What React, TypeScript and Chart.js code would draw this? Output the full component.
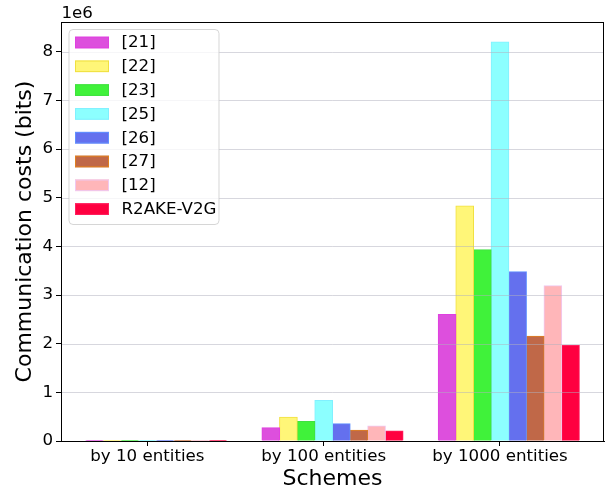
import React, { useEffect, useRef } from "react";
import { Chart, registerables } from "chart.js";

Chart.register(...registerables);

const FONT = "'DejaVu Sans', sans-serif";

// Categories (x axis)
const categories = ["by 10 entities", "by 100 entities", "by 1000 entities"];
// Schemes (series)
const schemes = ["[21]", "[22]", "[23]", "[25]", "[26]", "[27]", "[12]", "R2AKE-V2G"];
// Values per category, one entry per scheme (bits)
const by10 = [2600, 4830, 3930, 8200, 3480, 2150, 3190, 1960];
const by100 = [270000, 490000, 400000, 830000, 355000, 220000, 310000, 205000];
const by1000 = [2600000, 4830000, 3930000, 8200000, 3480000, 2150000, 3190000, 1960000];
// Y tick values
const yTicks = [0, 1e6, 2e6, 3e6, 4e6, 5e6, 6e6, 7e6, 8e6];

const fills = ["#dd4fdd", "#fff678", "#40f23a", "#8cffff", "#6470ee", "#c06848", "#ffb6b9", "#ff0040"];
const edges = ["#e040e0", "#f0e040", "#40e040", "#80f0ff", "#6090ff", "#e08020", "#f0c8f0", "#ff2060"];

const GRID = "rgba(176,176,190,0.5)";
const TICK_SIZE = 16.67;
const TITLE_SIZE = 22;

const overlay = {
  id: "overlay",
  afterDatasetsDraw(chart: any) {
    const { ctx, chartArea, scales } = chart;
    const { left, right } = chartArea;
    ctx.save();
    ctx.strokeStyle = GRID;
    ctx.lineWidth = 1;
    yTicks.forEach((v) => {
      if (v === 0) return;
      const py = Math.round(scales.y.getPixelForValue(v)) + 0.5;
      ctx.beginPath();
      ctx.moveTo(left, py);
      ctx.lineTo(right, py);
      ctx.stroke();
    });
    ctx.restore();
  },
  afterDraw(chart: any) {
    const { ctx, chartArea } = chart;
    const { left, right, top, bottom } = chartArea;
    ctx.save();
    // spines
    ctx.strokeStyle = "#000";
    ctx.lineWidth = 1;
    ctx.strokeRect(Math.round(left) + 0.5, Math.round(top) + 0.5, Math.round(right - left) - 1, Math.round(bottom - top));

    // legend
    const bx = left + 8, by = top + 7.5, bw = 150, bh = 195;
    const r = 4;
    ctx.beginPath();
    ctx.moveTo(bx + r, by);
    ctx.lineTo(bx + bw - r, by);
    ctx.quadraticCurveTo(bx + bw, by, bx + bw, by + r);
    ctx.lineTo(bx + bw, by + bh - r);
    ctx.quadraticCurveTo(bx + bw, by + bh, bx + bw - r, by + bh);
    ctx.lineTo(bx + r, by + bh);
    ctx.quadraticCurveTo(bx, by + bh, bx, by + bh - r);
    ctx.lineTo(bx, by + r);
    ctx.quadraticCurveTo(bx, by, bx + r, by);
    ctx.closePath();
    ctx.fillStyle = "rgba(255,255,255,0.8)";
    ctx.fill();
    ctx.strokeStyle = "rgba(204,204,204,0.8)";
    ctx.stroke();

    ctx.font = `${TICK_SIZE}px ${FONT}`;
    ctx.textBaseline = "middle";
    ctx.textAlign = "left";
    schemes.forEach((name, i) => {
      const cy = by + 13 + i * 23.8;
      ctx.fillStyle = fills[i];
      ctx.fillRect(bx + 6, cy - 5.8, 34, 11.6);
      ctx.strokeStyle = edges[i];
      ctx.strokeRect(bx + 6.5, cy - 5.3, 33, 10.6);
      ctx.fillStyle = "#000";
      ctx.fillText(name, bx + 52.5, cy + 0.5);
    });

    // offset text
    ctx.textBaseline = "alphabetic";
    ctx.fillText("1e6", left + 0.5, 18);
    ctx.restore();
  },
};

export default function App() {
  const ref = useRef<HTMLCanvasElement | null>(null);

  useEffect(() => {
    document.body.style.margin = "0";
    const canvas = ref.current;
    if (!canvas) return;
    const perCat = [by10, by100, by1000];
    const datasets: any[] = [
      {
        label: "_dummy",
        data: categories.map((_, c) => ({ x: c, y: 0 })),
        backgroundColor: "rgba(0,0,0,0)",
        borderColor: "rgba(0,0,0,0)",
        borderWidth: 0,
      },
      ...schemes.map((name, i) => ({
        label: name,
        data: categories.map((_, c) => ({ x: c, y: perCat[c][i] })),
        backgroundColor: fills[i],
        borderColor: edges[i],
        borderWidth: 1,
        inflateAmount: 0.5,
      })),
    ];

    const chart = new Chart(canvas, {
      type: "bar",
      data: { datasets },
      options: {
        animation: false,
        responsive: false,
        devicePixelRatio: 1,
        categoryPercentage: 0.9,
        barPercentage: 1,
        layout: { padding: { top: 22, right: 1, left: 0, bottom: 0 } },
        plugins: { legend: { display: false }, tooltip: { enabled: false }, title: { display: false } },
        scales: {
          x: {
            type: "linear",
            min: -0.49,
            max: 2.59,
            offset: false,
            afterBuildTicks: (s: any) => {
              s.ticks = categories.map((_, i) => ({ value: i }));
            },
            afterFit: (s: any) => {
              s.height = 51;
            },
            ticks: {
              callback: (v: any) => categories[v] ?? "",
              font: { size: TICK_SIZE, family: FONT },
              color: "#000",
              padding: 1,
              maxRotation: 0,
              autoSkip: false,
            },
            grid: {
              display: true,
              offset: false,
              drawOnChartArea: false,
              drawTicks: true,
              tickLength: 5,
              tickColor: "#000",
              color: "#000",
            },
            border: { display: true, color: "#000", width: 1 },
            title: {
              display: true,
              text: "Schemes",
              color: "#000",
              font: { size: TITLE_SIZE, family: FONT },
              padding: { top: 0, bottom: 0 },
            },
          },
          y: {
            type: "linear",
            min: 0,
            max: 8.61e6,
            afterBuildTicks: (s: any) => {
              s.ticks = yTicks.map((v) => ({ value: v }));
            },
            afterFit: (s: any) => {
              s.width = 61;
            },
            ticks: {
              callback: (v: any) => String(Math.round(Number(v) / 1e6)),
              font: { size: TICK_SIZE, family: FONT },
              color: "#000",
              padding: 3,
            },
            grid: {
              display: true,
              drawOnChartArea: false,
              drawTicks: true,
              tickLength: 5,
              tickColor: "#000",
              color: "#000",
            },
            border: { display: true, color: "#000", width: 1 },
            title: {
              display: true,
              text: "Communication costs (bits)",
              color: "#000",
              font: { size: TITLE_SIZE, family: FONT },
              padding: { top: 12, bottom: 0 },
            },
          },
        },
      },
      plugins: [overlay],
    } as any);

    return () => chart.destroy();
  }, []);

  return (
    <div style={{ width: 605, height: 492 }}>
      <canvas ref={ref} width={605} height={492} style={{ display: "block" }} />
    </div>
  );
}
